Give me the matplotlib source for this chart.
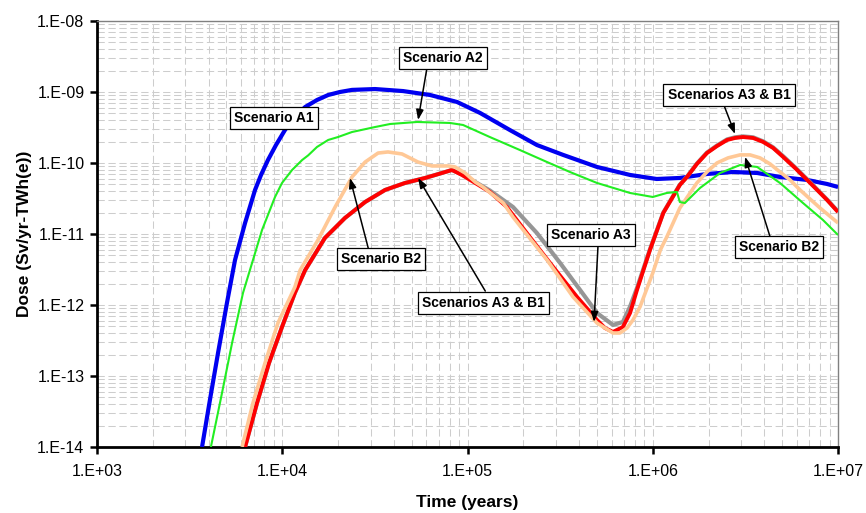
import matplotlib
matplotlib.use("Agg")
import matplotlib.pyplot as plt
from matplotlib.ticker import LogLocator, FixedLocator, FixedFormatter, NullFormatter

plt.rcParams['font.family'] = ['Liberation Sans', 'DejaVu Sans']

# ---- dose histories (time in years, dose in Sv/yr-TWh(e)) ----
a1_time = [3.69e3, 4.07e3, 4.50e3, 5.03e3, 5.56e3, 6.30e3, 7.13e3, 7.68e3, 8.37e3, 9.25e3,
           1.035e4, 1.17e4, 1.33e4, 1.54e4, 1.77e4, 2.05e4, 2.38e4, 3.17e4, 4.49e4, 6.28e4,
           8.78e4, 1.17e5, 1.69e5, 2.37e5, 3.28e5, 5.0e5, 7.54e5, 1.05e6, 1.40e6, 1.96e6,
           2.71e6, 3.66e6, 4.86e6, 6.81e6, 8.73e6, 1.0e7]
a1_dose = [1.0e-14, 4.6e-14, 2.1e-13, 1.07e-12, 4.3e-12, 1.43e-11, 4.17e-11, 6.78e-11, 1.1e-10, 1.79e-10,
           2.92e-10, 4.44e-10, 6.15e-10, 7.71e-10, 9.07e-10, 1.0e-9, 1.07e-9, 1.10e-9, 1.03e-9, 9.07e-10,
           7.23e-10, 5.06e-10, 2.92e-10, 1.79e-10, 1.30e-10, 8.79e-11, 6.78e-11, 5.95e-11, 6.15e-11, 7.0e-11,
           7.47e-11, 7.23e-11, 6.35e-11, 5.77e-11, 5.06e-11, 4.59e-11]

a2_time = [4.12e3, 4.73e3, 5.36e3, 6.14e3, 6.95e3, 7.78e3, 9.14e3, 9.97e3, 1.13e4, 1.28e4,
           1.38e4, 1.54e4, 1.77e4, 2.0e4, 2.38e4, 3.17e4, 3.82e4, 5.34e4, 8.05e4, 9.46e4,
           1.32e5, 1.92e5, 2.69e5, 3.57e5, 5.0e5, 7.54e5, 1.0e6, 1.19e6, 1.35e6, 1.40e6,
           1.49e6, 1.80e6, 2.31e6, 2.96e6, 3.66e6, 4.86e6, 6.47e6, 8.30e6, 1.0e7]
a2_dose = [1.0e-14, 5.77e-14, 2.92e-13, 1.48e-12, 4.3e-12, 1.14e-11, 3.32e-11, 5.23e-11, 7.97e-11, 1.10e-10,
           1.28e-10, 1.68e-10, 2.11e-10, 2.32e-10, 2.73e-10, 3.21e-10, 3.54e-10, 3.78e-10, 3.66e-10, 3.43e-10,
           2.32e-10, 1.52e-10, 1.03e-10, 7.47e-11, 5.23e-11, 3.78e-11, 3.32e-11, 3.78e-11, 3.91e-11, 2.82e-11,
           2.73e-11, 4.45e-11, 7.23e-11, 9.37e-11, 8.79e-11, 5.23e-11, 2.73e-11, 1.57e-11, 9.68e-12]

a3b1_time = [6.30e3, 7.31e3, 8.48e3, 9.97e3, 1.17e4, 1.33e4, 1.70e4, 2.18e4, 2.80e4, 3.59e4,
             4.60e4, 5.90e4, 7.28e4, 8.24e4, 9.33e4, 1.10e5, 1.32e5, 1.63e5, 2.17e5, 2.90e5,
             3.90e5, 5.0e5, 5.52e5, 6.10e5, 6.90e5, 7.54e5, 8.22e5, 9.66e5, 1.14e6, 1.40e6,
             1.53e6, 1.73e6, 1.96e6, 2.22e6, 2.52e6, 2.78e6, 3.07e6, 3.48e6, 3.94e6, 4.46e6,
             5.05e6, 5.86e6, 6.81e6, 7.71e6, 8.73e6, 1.0e7]
a3b1_dose = [1.0e-14, 4.17e-14, 1.52e-13, 4.9e-13, 1.48e-12, 3.11e-12, 8.8e-12, 1.68e-11, 2.82e-11, 4.17e-11,
             5.23e-11, 6.15e-11, 7.23e-11, 7.97e-11, 6.78e-11, 5.23e-11, 3.91e-11, 2.40e-11, 9.07e-12, 3.43e-12,
             1.30e-12, 6.15e-13, 4.74e-13, 4.17e-13, 4.9e-13, 7.71e-13, 1.63e-12, 5.96e-12, 1.98e-11, 4.90e-11,
             6.35e-11, 9.68e-11, 1.38e-10, 1.73e-10, 2.11e-10, 2.25e-10, 2.32e-10, 2.25e-10, 1.98e-10, 1.63e-10,
             1.22e-10, 8.51e-11, 5.77e-11, 4.17e-11, 3.01e-11, 2.04e-11]

a3_time = [6.30e3, 7.31e3, 8.48e3, 9.97e3, 1.17e4, 1.33e4, 1.70e4, 2.18e4, 2.80e4, 3.59e4,
           4.60e4, 5.90e4, 7.28e4, 8.24e4, 9.33e4, 1.10e5, 1.32e5, 1.76e5, 2.37e5, 3.16e5,
           4.05e5, 5.0e5, 6.10e5, 6.90e5, 7.54e5, 8.22e5, 9.66e5, 1.14e6, 1.40e6, 1.53e6,
           1.73e6, 1.96e6, 2.22e6, 2.52e6, 2.78e6, 3.07e6, 3.48e6, 3.94e6, 4.46e6, 5.05e6,
           5.86e6, 6.81e6, 7.71e6, 8.73e6, 1.0e7]
a3_dose = [1.0e-14, 4.17e-14, 1.52e-13, 4.9e-13, 1.48e-12, 3.11e-12, 8.8e-12, 1.68e-11, 2.82e-11, 4.17e-11,
           5.23e-11, 6.15e-11, 7.23e-11, 7.97e-11, 6.9e-11, 5.4e-11, 4.1e-11, 2.40e-11, 1.03e-11, 3.91e-12,
           1.63e-12, 7.71e-13, 5.23e-13, 5.77e-13, 9.5e-13, 1.74e-12, 6.1e-12, 2.0e-11, 4.95e-11, 6.4e-11,
           9.8e-11, 1.40e-10, 1.76e-10, 2.15e-10, 2.3e-10, 2.37e-10, 2.3e-10, 2.02e-10, 1.66e-10, 1.25e-10,
           8.7e-11, 5.9e-11, 4.25e-11, 3.05e-11, 2.07e-11]

b2_time = [6.07e3, 6.95e3, 8.07e3, 9.48e3, 1.17e4, 1.25e4, 1.56e4, 1.93e4, 2.38e4, 2.80e4,
           3.29e4, 3.72e4, 4.43e4, 5.41e4, 6.43e4, 7.85e4, 8.57e4, 9.70e4, 1.10e5, 1.21e5,
           1.56e5, 1.76e5, 2.69e5, 3.71e5, 5.0e5, 6.10e5, 6.65e5, 7.26e5, 7.82e5, 8.53e5,
           1.0e6, 1.10e6, 1.19e6, 1.40e6, 1.73e6, 1.96e6, 2.22e6, 2.55e6, 2.96e6, 3.35e6,
           3.79e6, 4.30e6, 4.86e6, 5.51e6, 6.24e6, 7.06e6, 8.0e6, 1.0e7]
b2_dose = [1.0e-14, 4.17e-14, 1.52e-13, 5.57e-13, 1.79e-12, 3.11e-12, 8.23e-12, 2.40e-11, 6.35e-11, 1.03e-10,
           1.38e-10, 1.43e-10, 1.34e-10, 1.03e-10, 9.08e-11, 9.08e-11, 8.79e-11, 7.23e-11, 5.40e-11, 4.59e-11,
           2.73e-11, 1.73e-11, 4.3e-12, 1.30e-12, 5.57e-13, 4.03e-13, 4.03e-13, 4.74e-13, 6.15e-13, 9.37e-13,
           2.82e-12, 6.0e-12, 9.07e-12, 2.32e-11, 5.23e-11, 7.47e-11, 1.0e-10, 1.18e-10, 1.30e-10, 1.30e-10,
           1.18e-10, 9.68e-11, 7.47e-11, 5.77e-11, 4.17e-11, 3.11e-11, 2.32e-11, 1.43e-11]

x_tick_values = [1e3, 1e4, 1e5, 1e6, 1e7]
x_tick_labels = ["1.E+03", "1.E+04", "1.E+05", "1.E+06", "1.E+07"]
y_tick_values = [1e-14, 1e-13, 1e-12, 1e-11, 1e-10, 1e-9, 1e-8]
y_tick_labels = ["1.E-14", "1.E-13", "1.E-12", "1.E-11", "1.E-10", "1.E-09", "1.E-08"]

# ---- figure ----
fig = plt.figure(figsize=(8.66, 5.13), dpi=100)
ax = fig.add_axes([0.112, 0.1287, 0.8557, 0.8304])
ax.set_xscale('log')
ax.set_yscale('log')
ax.set_xlim(1e3, 1e7)
ax.set_ylim(1e-14, 1e-8)

line_kw = dict(solid_joinstyle='round', solid_capstyle='butt')
ax.plot(a1_time, a1_dose, color='#0000f0', lw=3.0, zorder=3, **line_kw)
ax.plot(a3_time, a3_dose, color='#969696', lw=3.0, zorder=4, **line_kw)
ax.plot(a3b1_time, a3b1_dose, color='#ff0000', lw=2.8, zorder=5, **line_kw)
ax.plot(b2_time, b2_dose, color='#ffc896', lw=2.6, zorder=6, **line_kw)
ax.plot(a2_time, a2_dose, color='#22ee22', lw=1.5, zorder=7, **line_kw)

# grid
dash = (0, (7, 3.5))
ax.xaxis.set_minor_locator(LogLocator(base=10, subs=range(2, 10), numticks=20))
ax.yaxis.set_minor_locator(LogLocator(base=10, subs=range(2, 10), numticks=20))
ax.xaxis.set_minor_formatter(NullFormatter())
ax.yaxis.set_minor_formatter(NullFormatter())
ax.grid(True, which='both', color='#cdcdcd', lw=0.75, linestyle=dash, zorder=0)
ax.set_axisbelow(True)

ax.xaxis.set_major_locator(FixedLocator(x_tick_values))
ax.xaxis.set_major_formatter(FixedFormatter(x_tick_labels))
ax.yaxis.set_major_locator(FixedLocator(y_tick_values))
ax.yaxis.set_major_formatter(FixedFormatter(y_tick_labels))
ax.tick_params(which='major', direction='out', length=5, width=1.8, labelsize=11.5,
               colors='black', pad=4)
ax.tick_params(axis='x', which='major', pad=7)
ax.tick_params(which='minor', length=0)

for side in ('left', 'bottom'):
    ax.spines[side].set_linewidth(2.0)
    ax.spines[side].set_color('black')
for side in ('top', 'right'):
    ax.spines[side].set_linewidth(1.0)
    ax.spines[side].set_color('#808080')

ax.set_xlabel("Time (years)", fontsize=12.5, fontweight='bold', labelpad=12)
ax.set_ylabel("Dose (Sv/yr-TWh(e))", fontsize=12.5, fontweight='bold', labelpad=4)

# ---- callouts ----
box = dict(boxstyle='square,pad=0.3', fc='white', ec='black', lw=0.9)
arrow = dict(arrowstyle='-|>,head_length=0.6,head_width=0.22', color='black', lw=1.1,
             shrinkA=0, shrinkB=0)

labels = [
    ("Scenario A2", (0.467, 0.913), (0.445, 0.887), (5.41e4, 4.03e-10)),
    ("Scenario A1", (0.239, 0.772), None, None),
    ("Scenario B2", (0.383, 0.441), (0.366, 0.467), (2.32e4, 6.15e-11)),
    ("Scenarios A3 & B1", (0.522, 0.338), (0.524, 0.366), (5.41e4, 6.15e-11)),
    ("Scenario A3", (0.667, 0.498), (0.676, 0.469), (4.82e5, 5.77e-13)),
    ("Scenarios A3 & B1", (0.853, 0.826), (0.847, 0.798), (2.78e6, 2.56e-10)),
    ("Scenario B2", (0.920, 0.469), (0.908, 0.495), (3.15e6, 1.22e-10)),
]
for text, pos, tail, tip in labels:
    if tip is not None:
        ax.annotate('', xy=tip, xycoords='data', xytext=tail, textcoords='axes fraction',
                    arrowprops=arrow, zorder=9)
    ax.text(pos[0], pos[1], text, transform=ax.transAxes, ha='center', va='center',
            fontsize=10, fontweight='bold', bbox=box, zorder=10)

fig.savefig("out.png", dpi=100, facecolor='white')
